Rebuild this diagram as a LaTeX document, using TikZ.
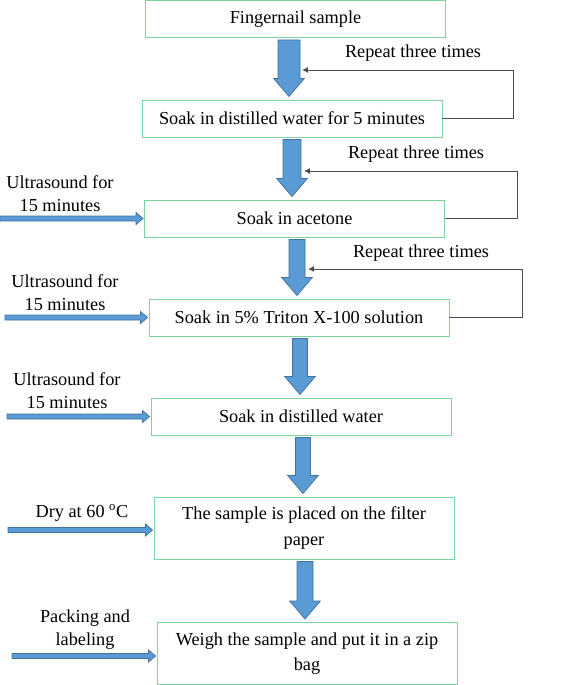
\documentclass[tikz,border=0pt]{standalone}
\usepackage{fontspec}
\setmainfont{Liberation Serif}
\usepackage{tikz}
\usetikzlibrary{arrows.meta,positioning,calc}

\definecolor{boxgreen}{RGB}{120,214,158}
\definecolor{arrowblue}{RGB}{91,155,213}
\definecolor{arrowline}{RGB}{65,113,156}

\newcommand{\flowarrow}[4]{%
  \draw[blockarr] let \p1=($(#1.south)+(#3,2)$), \p2=($(#2.north)+(0,-3)$) in
    (\x1-#4*0.3mm,\y1) -- (\x1+#4*0.3mm,\y1) -- (\x1+#4*0.3mm,\y2+5.4mm)
    -- (\x1+4.6mm,\y2+5.4mm) -- (\x1,\y2) -- (\x1-4.6mm,\y2+5.4mm)
    -- (\x1-#4*0.3mm,\y2+5.4mm) -- cycle;}
\newcommand{\sidearrow}[3]{%
  \draw[blockarr] let \p1=(#1), \p2=($(#2.west)+(-1,#3)$) in
    (\x1,\y2+0.75mm) -- (\x2-2.1mm,\y2+0.75mm) -- (\x2-2.1mm,\y2+1.8mm)
    -- (\x2,\y2) -- (\x2-2.1mm,\y2-1.8mm) -- (\x2-2.1mm,\y2-0.75mm)
    -- (\x1,\y2-0.75mm) -- cycle;}

\begin{document}
\begin{tikzpicture}[x=0.3mm, y=-0.3mm, font=\fontsize{15.6}{19.5}\selectfont,
  stepbox/.style={draw=boxgreen, line width=0.8pt, minimum width=90mm,
    minimum height=11.1mm, inner sep=0pt, align=center},
  tallbox/.style={stepbox, minimum height=18.6mm,
    font=\fontsize{15.6}{21.5}\selectfont},
  blockarr/.style={draw=arrowline, fill=arrowblue, line width=0.6pt, line join=miter},
  loopline/.style={draw=black!70, line width=0.8pt, -{Latex[length=5pt,width=5pt]}},
  sidelabel/.style={align=center, inner sep=0pt}]
  \useasboundingbox (0,0) rectangle (561,685);

  \node[stepbox] (fing) at (295.5,19) {Fingernail sample};
  \node[stepbox] (soak1) at (292,118.5) {Soak in distilled water for 5 minutes};
  \node[stepbox] (acet) at (294.5,218.5) {Soak in acetone};
  \node[stepbox] (trit) at (299,317.5) {Soak in 5\% Triton X-100 solution};
  \node[stepbox] (dist) at (301,416.5) {Soak in distilled water};
  \node[tallbox] (dry) at (304,528) {The sample is placed on the filter\\paper};
  \node[tallbox] (weigh) at (307,653.5) {Weigh the sample and put it in a zip\\bag};

  \flowarrow{fing}{soak1}{-6.5}{11}
  \flowarrow{soak1}{acet}{0}{9}
  \flowarrow{acet}{trit}{2.5}{8}
  \flowarrow{trit}{dist}{1}{7.5}
  \flowarrow{dist}{dry}{2}{7.5}
  \flowarrow{dry}{weigh}{1}{8}

  \node (rep1) at (413,53) {Repeat three times};
  \node (rep2) at (416,154) {Repeat three times};
  \node (rep3) at (421,253) {Repeat three times};
  \coordinate (back1) at (302,70);
  \coordinate (back2) at (304,171);
  \coordinate (back3) at (308,269);
  \draw[loopline] (soak1.east) -- ++(71,0) |- (back1);
  \draw[loopline] (acet.east) -- ++(72,0) |- (back2);
  \draw[loopline] (trit.east) -- ++(73,0) |- (back3);

  \node[sidelabel] (us1) at (60,194) {Ultrasound for\\15 minutes};
  \node[sidelabel] (us2) at (65,293) {Ultrasound for\\15 minutes};
  \node[sidelabel] (us3) at (67,391) {Ultrasound for\\15 minutes};
  \node[sidelabel] (drylab) at (82,513) {Dry at 60 \textsuperscript{o}C};
  \node[sidelabel] (pack) at (85,630) {Packing and\\labeling};
  \coordinate (in1) at (0,218);
  \coordinate (in2) at (5,317);
  \coordinate (in3) at (7,417);
  \coordinate (in4) at (8,530);
  \coordinate (in5) at (12,656);
  \sidearrow{in1}{acet}{0}
  \sidearrow{in2}{trit}{0}
  \sidearrow{in3}{dist}{0}
  \sidearrow{in4}{dry}{2}
  \sidearrow{in5}{weigh}{2.5}
\end{tikzpicture}
\end{document}
